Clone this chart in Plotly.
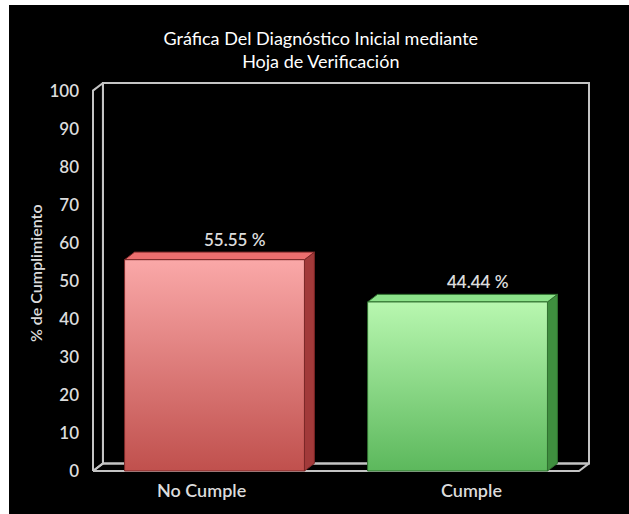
import plotly.graph_objects as go

# ---------------- data ----------------
categories = ["No Cumple", "Cumple"]
values = [55.55, 44.44]
value_labels = ["55.55 %", "44.44 %"]
y_ticks = [0, 10, 20, 30, 40, 50, 60, 70, 80, 90, 100]
title_text = "Gráfica Del Diagnóstico Inicial mediante<br>Hoja de Verificación"
y_title = "% de Cumplimiento"

# ---------------- style ----------------
FONT = "Lato"
front_bottom = ["#c0504d", "#5cb85c"]
front_top = ["#faa8a8", "#b8f7b0"]
top_face = ["#ec6e6e", "#8ce28a"]
side_face = ["#a23a3a", "#3f8f3f"]
edge_col = ["#7a2626", "#2f6f2f"]
frame_col = "#c4c4c4"
label_col = "#dcdcdc"
cat_xshift = [-13, 14]

BW = 0.74          # bar width (category units)
DX = 0.041         # 3D depth in x (category units)
DY = 2.0           # 3D depth in y (value units)
PADX = 4 / 243
PADY = 1.05
YMAX = 100

fig = go.Figure()

def poly(xs, ys, fill="none", fillcolor=None, line_col=frame_col, width=2):
    return go.Scatter(x=xs, y=ys, mode="lines", fill=fill, fillcolor=fillcolor,
                      line=dict(color=line_col, width=width), hoverinfo="skip",
                      showlegend=False, cliponaxis=False)

# frame: back wall, left wall, floor
x0, x1 = -0.5, len(categories) - 0.5
fig.add_trace(poly([x0 + DX, x1 + DX, x1 + DX, x0 + DX, x0 + DX],
                   [DY, DY, YMAX + DY, YMAX + DY, DY]))
fig.add_trace(poly([x0, x0, x0 + DX, x0 + DX, x0],
                   [0, YMAX, YMAX + DY, DY, 0]))
fig.add_trace(poly([x0, x1, x1 + DX, x0 + DX, x0],
                   [0, 0, DY, DY, 0]))

# bars (3D boxes)
for i, v in enumerate(values):
    l, r = i - BW / 2, i + BW / 2
    fig.add_trace(poly([r, r + DX, r + DX, r, r], [0, DY, v + DY, v, 0],
                       fill="toself", fillcolor=side_face[i], line_col=edge_col[i], width=1))
    fig.add_trace(poly([l, l + DX, r + DX, r, l], [v, v + DY, v + DY, v, v],
                       fill="toself", fillcolor=top_face[i], line_col=edge_col[i], width=1))
    fig.add_trace(go.Scatter(
        x=[l, r, r, l, l], y=[0, 0, v, v, 0], mode="lines", fill="toself",
        fillgradient=dict(type="vertical",
                          colorscale=[[0, front_bottom[i]], [1, front_top[i]]]),
        line=dict(color=edge_col[i], width=1), hoverinfo="skip", showlegend=False,
        cliponaxis=False))

annotations = []
for i, (v, t) in enumerate(zip(values, value_labels)):
    annotations.append(dict(x=i, y=v + DY, text=t, showarrow=False, xanchor="center",
                            yanchor="bottom", xshift=20, yshift=0,
                            font=dict(family=FONT, size=17, color=label_col, weight=600)))
for i, c in enumerate(categories):
    annotations.append(dict(x=i, y=0, text=c, showarrow=False, xanchor="center",
                            yanchor="top", xshift=cat_xshift[i], yshift=-6,
                            font=dict(family=FONT, size=18, color=label_col, weight=600)))
annotations.append(dict(xref="paper", yref="paper", x=-0.107, y=0.51, text=y_title,
                        textangle=-90, showarrow=False, xanchor="center", yanchor="middle",
                        font=dict(family=FONT, size=16, color=label_col, weight=600)))

fig.update_layout(
    width=629, height=514,
    margin=dict(l=89, r=36, t=79, b=39, pad=0),
    paper_bgcolor="white", plot_bgcolor="black",
    shapes=[dict(type="rect", xref="paper", yref="paper", x0=-0.1587, x1=1.3,
                 y0=-0.3, y1=1.187, fillcolor="black", line=dict(width=0),
                 layer="below")],
    title=dict(text=title_text, x=0.51, xref="container", xanchor="center",
               y=1 - 45 / 514, yref="container", yanchor="middle",
               font=dict(family=FONT, size=18, color="white")),
    xaxis=dict(range=[x0 - PADX, x1 + DX + PADX], showticklabels=False, showgrid=False,
               zeroline=False, showline=False, ticks="", fixedrange=True),
    yaxis=dict(range=[-PADY, YMAX + DY + PADY], tickvals=y_ticks,
               ticktext=[str(t) for t in y_ticks], showgrid=False, zeroline=False,
               showline=False, ticks="", ticklabelstandoff=9,
               tickfont=dict(family=FONT, size=17, color=label_col, weight=600)),
    annotations=annotations,
    showlegend=False,
)

fig.write_html("out.html")
